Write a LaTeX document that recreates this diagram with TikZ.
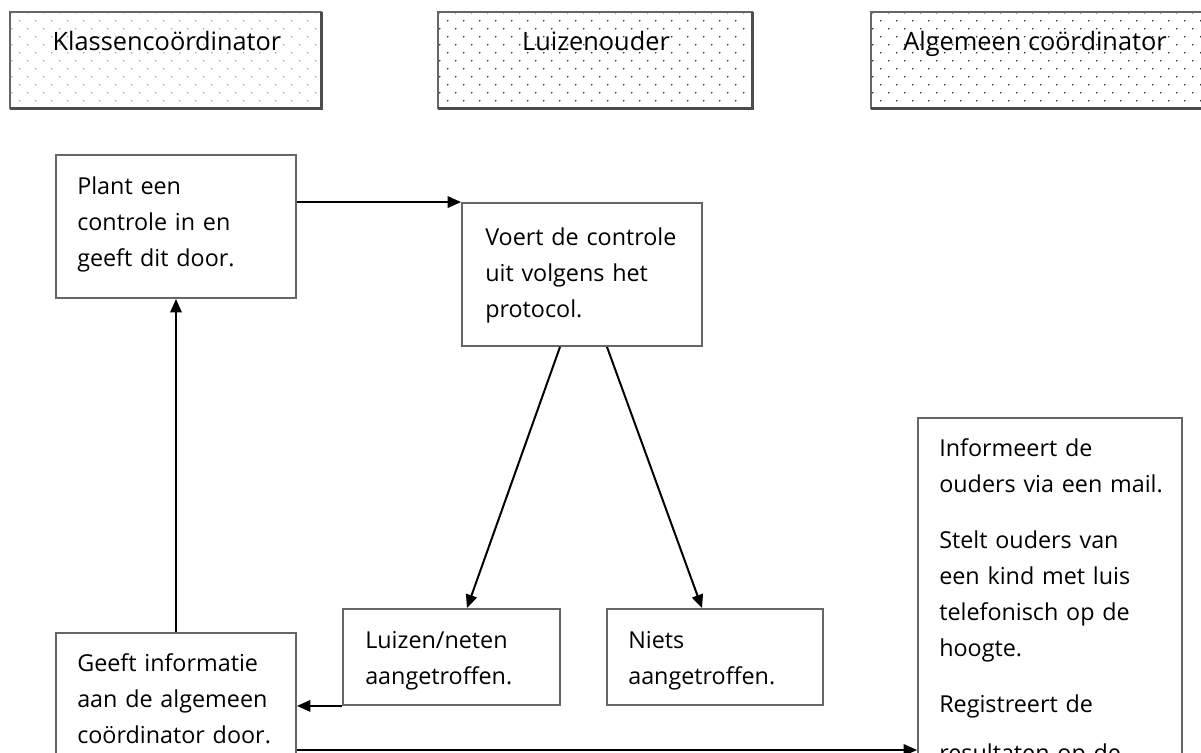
\documentclass[tikz,border=0pt]{standalone}
\usepackage{fontspec}
\setmainfont{Open Sans}
\usetikzlibrary{arrows.meta,positioning,calc}

\begin{document}
\begin{tikzpicture}[
    x=0.75pt, y=-0.75pt,
    every node/.style={font=\fontsize{17.5}{27}\selectfont},
    box/.style={rectangle, draw=black!60, line width=1.4pt, fill=white, inner sep=0pt},
    hbox/.style={rectangle, fill=white, inner sep=0pt, minimum height=72pt},
    head/.style={font=\fontsize{19}{23}\selectfont, anchor=base, inner sep=0pt},
    txt/.style={anchor=base west, inner sep=0pt, align=left, text width=190pt},
    flow/.style={-{Triangle[length=10pt,width=8.5pt]}, line width=1.5pt},
]
    \useasboundingbox (0,0) rectangle (1201,752);
    \clip (0,0) rectangle (1201,752);
    \fill[white] (0,0) rectangle (1201,752);

    % Role headers
    \node[hbox, minimum width=233.25pt] (hdrA) at (165.5,60) {};
    \node[hbox, minimum width=235.5pt] (hdrB) at (595,60) {};
    \node[hbox, minimum width=254.25pt] (hdrC) at (1040.5,60) {};

    % Dotted fill of the headers
    \foreach \h/\dotcol in {hdrA/black!35, hdrB/black!85, hdrC/black!85} {
        \begin{scope}
            \clip (\h.north west) rectangle (\h.south east);
            \foreach \r in {0,...,12}
                \foreach \c in {0,...,21}
                    \fill[\dotcol] ($(\h.north west)+({\c*16+mod(\r,2)*8+2},{\r*8+1})$) circle (0.7pt);
        \end{scope}
        \draw[black!60, line width=1.4pt] (\h.north west) rectangle (\h.south east);
        \draw[black!70, line width=2.2pt] (\h.north east) -- (\h.south east) -- (\h.south west);
    }

    \node[head] (ttlA) at (167,51) {Klassencoördinator};
    \node[head] (ttlB) at (596,51) {Luizenouder};
    \node[head] (ttlC) at (1035,51) {Algemeen coördinator};

    % Steps
    \node[box, minimum width=180pt, minimum height=107.25pt] (plant) at (176,226.5) {};
    \node[txt] (plantTxt) at (77,195) {Plant een\\controle in en\\geeft dit door.};

    \node[box, minimum width=180pt, minimum height=107.25pt] (voert) at (582,274.5) {};
    \node[txt] (voertTxt) at (485,245) {Voert de controle\\uit volgens het\\protocol.};

    \node[box, minimum width=162.75pt, minimum height=72pt] (luizen) at (451.5,657) {};
    \node[txt] (luizenTxt) at (365,648) {Luizen/neten\\aangetroffen.};

    \node[box, minimum width=162pt, minimum height=72pt] (niets) at (715,657) {};
    \node[txt] (nietsTxt) at (628,648) {Niets\\aangetroffen.};

    \node[box, minimum width=180pt, minimum height=117.75pt] (geeft) at (176,711.5) {};
    \node[txt] (geeftTxt) at (77,671) {Geeft informatie\\aan de algemeen\\coördinator door.};

    \node[box, minimum width=198pt, minimum height=286.5pt] (inform) at (1050,609) {};
    \node[txt] (informTxt) at (939,456) {Informeert de\\ouders via een mail.\\[15pt]Stelt ouders van\\een kind met luis\\telefonisch op de\\hoogte.\\[15pt]Registreert de\\[10pt]resultaten op de};

    % Connectors
    \coordinate (lowline) at (0,750);
    \draw[flow] (plant.east |- voert.north) -- (voert.north west);
    \draw[flow] ($(voert.south)+(-22,0)$) -- ($(luizen.north)+(15.5,0)$);
    \draw[flow] ($(voert.south)+(25,0)$) -- ($(niets.north)+(-13,0)$);
    \draw[flow] (geeft.north) -- (plant.south);
    \draw[flow] (luizen.south west) -- (luizen.south west -| geeft.east);
    \draw[flow] (geeft.east |- lowline) -- (inform.west |- lowline);
\end{tikzpicture}
\end{document}
